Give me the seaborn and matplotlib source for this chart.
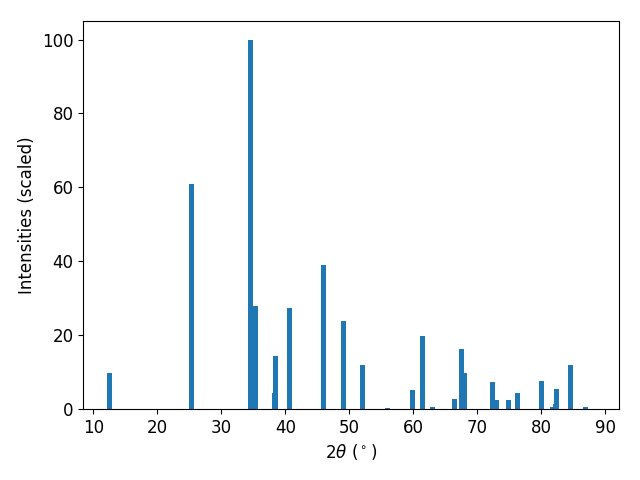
import matplotlib
matplotlib.use("Agg")
import matplotlib.pyplot as plt
import seaborn as sns

# peak positions (2theta, degrees) and scaled intensities
two_theta = [12.50, 25.34, 34.53, 35.30, 38.30, 38.44, 40.66, 45.97, 49.09,
             52.06, 55.97, 59.80, 61.44, 63.00, 66.44, 67.53, 68.00, 72.38,
             73.00, 74.88, 76.28, 80.03, 81.77, 82.20, 82.38, 84.56, 86.90]
intensity = [9.8, 61.0, 100.0, 28.0, 4.3, 14.4, 27.4, 39.0, 23.8,
             11.9, 0.3, 5.1, 19.8, 0.5, 2.7, 16.3, 9.8, 7.3,
             2.4, 2.4, 4.3, 7.6, 0.5, 1.4, 5.4, 11.9, 0.5]

color = sns.color_palette("tab10")[0]

fig, ax = plt.subplots(figsize=(6.4, 4.8), dpi=100)
ax.bar(two_theta, intensity, width=0.8, color=color)

ax.set_xlim(8.4, 92.1)
ax.set_ylim(0, 105)
ax.tick_params(labelsize=12)
ax.set_xlabel(r"$2\theta$ ($^\circ$)", fontsize=12)
ax.set_ylabel("Intensities (scaled)", fontsize=12)

fig.subplots_adjust(left=0.13, right=0.967, top=0.956, bottom=0.148)
plt.savefig("out.png", dpi=100)
plt.close()
